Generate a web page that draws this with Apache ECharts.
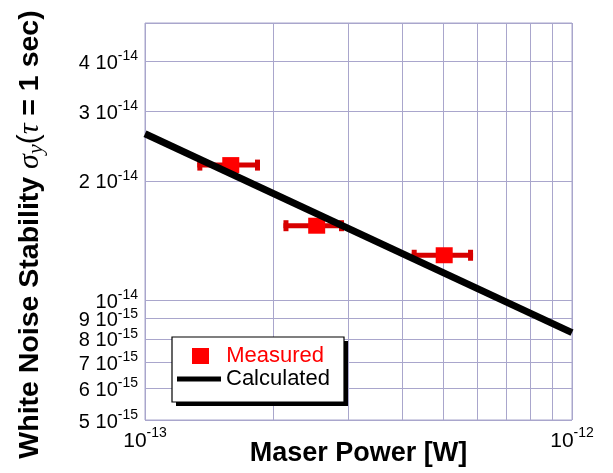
<!DOCTYPE html>
<html>
<head>
<meta charset="utf-8">
<script src="https://cdn.jsdelivr.net/npm/echarts@6/dist/echarts.min.js"></script>
<style>html,body{margin:0;padding:0;background:#fff}#c{width:613px;height:473px}</style>
</head>
<body>
<div id="c"></div>
<script>
// ---- data ----
var measuredPower = [1.588e-13, 2.524e-13, 5.02e-13];
var measuredLow   = [1.326e-13, 2.11e-13, 4.213e-13];
var measuredHigh  = [1.859e-13, 2.924e-13, 5.865e-13];
var measuredSigma = [2.193e-14, 1.543e-14, 1.30e-14];
var calcPower = [1e-13, 1e-12];
var calcSigma = [2.63e-14, 8.3e-15];
var yGridValues = [5e-15, 6e-15, 7e-15, 8e-15, 9e-15, 1e-14, 2e-14, 3e-14, 4e-14, 5e-14];
var yLabelValues = [5e-15, 6e-15, 7e-15, 8e-15, 9e-15, 1e-14, 2e-14, 3e-14, 4e-14];
var xGridValues = [1e-13, 2e-13, 3e-13, 4e-13, 5e-13, 6e-13, 7e-13, 8e-13, 9e-13, 1e-12];
var xLabelValues = [1e-13, 1e-12];

function sciLabel(v) {
  var e = Math.floor(Math.log10(v) + 1e-6);
  var m = Math.round(v / Math.pow(10, e));
  return (m === 1 ? '{b|10}' : '{b|' + m + ' 10}') + '{s|' + e + '}';
}

var chart = echarts.init(document.getElementById('c'), null, {renderer: 'canvas'});
var gridColor = '#a9a6cc';
var FONT = 'Liberation Sans, Arial, sans-serif';

var option = {
  backgroundColor: '#fff',
  animation: false,
  grid: {left: 145, right: 41, top: 23, bottom: 53, show: true, borderColor: gridColor, borderWidth: 1,
         outerBoundsMode: 'none', containLabel: false},
  xAxis: {
    type: 'log', logBase: 10, min: 1e-13, max: 1e-12,
    name: 'Maser Power [W]', nameLocation: 'middle', nameGap: 20, nameMoveOverlap: false,
    nameTextStyle: {fontFamily: FONT, fontWeight: 'bold', fontSize: 27, color: '#000'},
    axisLine: {show: false},
    axisTick: {show: false, customValues: xGridValues},
    splitLine: {show: true, lineStyle: {color: gridColor, width: 1}},
    axisLabel: {
      customValues: xLabelValues, margin: 6, formatter: sciLabel,
      rich: {
        b: {fontFamily: FONT, fontSize: 21, color: '#000', lineHeight: 26, verticalAlign: 'bottom'},
        s: {fontFamily: FONT, fontSize: 14, color: '#000', lineHeight: 12, verticalAlign: 'top'}
      }
    }
  },
  yAxis: {
    type: 'log', logBase: 10, min: 5e-15, max: 5e-14,
    name: '{t|White Noise Stability }{g|σ}{sub|y}{p|(}{g|τ}{t| = 1 sec)}',
    nameLocation: 'middle', nameGap: 98, nameRotate: 90, nameMoveOverlap: false,
    nameTextStyle: {
      padding: [0, 26, 0, 0],
      rich: {
        t: {fontFamily: FONT, fontWeight: 'bold', fontSize: 28.5, color: '#000', lineHeight: 34},
        g: {fontFamily: 'Liberation Serif, serif', fontStyle: 'italic', fontSize: 30, color: '#000', lineHeight: 34},
        sub: {fontFamily: 'Liberation Serif, serif', fontStyle: 'italic', fontSize: 22, color: '#000', lineHeight: 14, verticalAlign: 'bottom'},
        p: {fontFamily: 'Liberation Sans, sans-serif', fontSize: 30, color: '#000', lineHeight: 34}
      }
    },
    axisLine: {show: false},
    axisTick: {show: false, customValues: yGridValues},
    splitLine: {show: true, lineStyle: {color: gridColor, width: 1}},
    axisLabel: {
      customValues: yLabelValues, margin: 7, formatter: sciLabel,
      rich: {
        b: {fontFamily: FONT, fontSize: 20, color: '#000', lineHeight: 24, verticalAlign: 'bottom'},
        s: {fontFamily: FONT, fontSize: 14, color: '#000', lineHeight: 12, verticalAlign: 'top'}
      }
    }
  },
  legend: [
    {data: ['Measured'], left: 192, top: 345, padding: 0, icon: 'rect', itemWidth: 17, itemHeight: 16,
     formatter: '  {name}', textStyle: {fontFamily: FONT, fontSize: 22, color: '#ff0000'}, z: 10},
    {data: ['Calculated'], left: 177, top: 368, padding: 0, icon: 'rect', itemWidth: 44, itemHeight: 5,
     textStyle: {fontFamily: FONT, fontSize: 22, color: '#000'}, z: 10}
  ],
  graphic: [
    {type: 'rect', shape: {x: 176, y: 341, width: 172, height: 65}, style: {fill: '#000'}, z: 5, silent: true},
    {type: 'rect', shape: {x: 172, y: 337, width: 172, height: 65}, style: {fill: '#fff', stroke: '#000', lineWidth: 1.2}, z: 6, silent: true}
  ],
  series: [
    {
      name: 'errbar', type: 'custom', z: 2,
      data: measuredPower.map(function (p, i) { return [measuredLow[i], measuredHigh[i], measuredSigma[i]]; }),
      encode: {x: [0, 1], y: 2},
      renderItem: function (params, api) {
        var y = api.value(2);
        var lo = api.coord([api.value(0), y]);
        var hi = api.coord([api.value(1), y]);
        var st = {stroke: '#d70000', lineWidth: 5};
        return {type: 'group', children: [
          {type: 'line', shape: {x1: lo[0], y1: lo[1], x2: hi[0], y2: hi[1]}, style: st},
          {type: 'line', shape: {x1: lo[0] + 2.5, y1: lo[1] - 5.5, x2: lo[0] + 2.5, y2: lo[1] + 5.5}, style: st},
          {type: 'line', shape: {x1: hi[0] - 2.5, y1: hi[1] - 5.5, x2: hi[0] - 2.5, y2: hi[1] + 5.5}, style: st}
        ]};
      }
    },
    {
      name: 'Measured', type: 'scatter', z: 3, symbol: 'rect', symbolSize: [17, 16],
      itemStyle: {color: '#ff0000', opacity: 1},
      data: measuredPower.map(function (p, i) { return [p, measuredSigma[i]]; })
    },
    {
      name: 'Calculated', type: 'line', z: 4, symbol: 'none', showSymbol: false,
      itemStyle: {color: '#000'}, lineStyle: {color: '#000', width: 7},
      data: calcPower.map(function (p, i) { return [p, calcSigma[i]]; })
    }
  ]
};
chart.setOption(option);
</script>
</body>
</html>
